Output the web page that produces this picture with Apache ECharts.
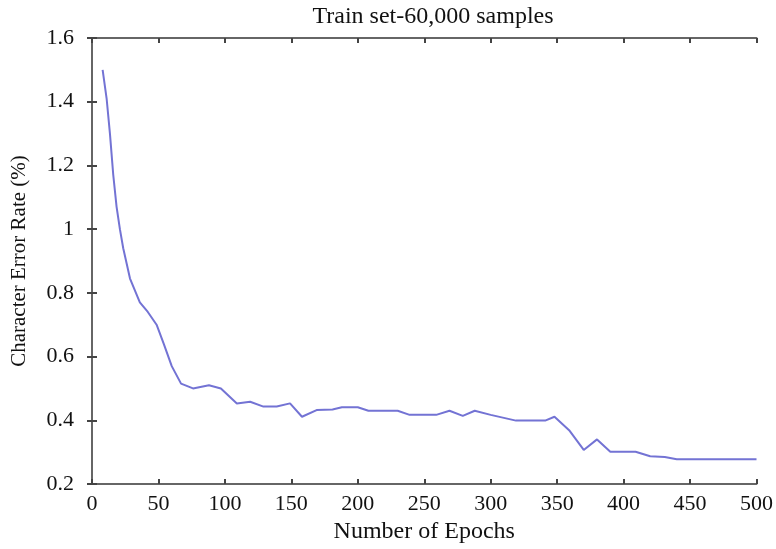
<!DOCTYPE html>
<html>
<head>
<meta charset="utf-8">
<script src="https://cdn.jsdelivr.net/npm/echarts@6/dist/echarts.min.js"></script>
<style>
html,body{margin:0;padding:0;background:#fff;}
#chart{width:776px;height:549px;}
</style>
</head>
<body>
<div id="chart"></div>
<script>
const titleText = "Train set-60,000 samples";
const xAxisName = "Number of Epochs";
const yAxisName = "Character Error Rate (%)";
const epochs = [8, 11, 13.5, 16, 18.5, 21, 23.5, 28.6, 36, 42, 48.6, 54, 60, 67, 76, 88, 97, 109, 119, 129, 139, 149, 158, 169, 181, 188, 200, 208, 230, 239, 259, 269, 279, 288, 300, 319, 341, 348, 359, 370, 380, 390, 409, 420, 431, 440, 500];
const errorRate = [1.50, 1.41, 1.30, 1.17, 1.07, 1.0, 0.94, 0.845, 0.77, 0.74, 0.70, 0.64, 0.57, 0.515, 0.50, 0.51, 0.50, 0.453, 0.458, 0.443, 0.443, 0.453, 0.411, 0.432, 0.434, 0.441, 0.441, 0.430, 0.430, 0.417, 0.417, 0.430, 0.414, 0.430, 0.417, 0.399, 0.399, 0.411, 0.369, 0.307, 0.340, 0.301, 0.301, 0.287, 0.285, 0.278, 0.278];

const font = "'Liberation Serif', 'Times New Roman', serif";
const axisColor = '#666';
const chart = echarts.init(document.getElementById('chart'));
const baseAxis = {
  axisLine: {show: true, lineStyle: {color: axisColor, width: 2}},
  axisTick: {show: true, inside: true, length: 5, lineStyle: {color: '#444', width: 2}},
  splitLine: {show: false}
};
chart.setOption({
  animation: false,
  backgroundColor: '#fff',
  title: {
    text: titleText, left: 428, top: 0, textAlign: 'center',
    textStyle: {fontFamily: font, fontSize: 24, fontWeight: 'normal', color: '#111'}
  },
  grid: {left: 92, right: 19, top: 38, bottom: 65, containLabel: false},
  xAxis: [
    Object.assign({}, baseAxis, {
      type: 'value', min: 0, max: 500, interval: 50, position: 'bottom',
      name: xAxisName, nameLocation: 'middle', nameGap: 36,
      nameTextStyle: {fontFamily: font, fontSize: 24, color: '#111'},
      axisLabel: {fontFamily: font, fontSize: 22, color: '#111', margin: 9}
    }),
    Object.assign({}, baseAxis, {
      type: 'value', min: 0, max: 500, interval: 50, position: 'top',
      axisLabel: {show: false}
    })
  ],
  yAxis: [
    Object.assign({}, baseAxis, {
      type: 'value', min: 0.2, max: 1.6, interval: 0.2, position: 'left',
      name: yAxisName, nameLocation: 'middle', nameGap: 62,
      nameTextStyle: {fontFamily: font, fontSize: 21, color: '#111'},
      axisLabel: {fontFamily: font, fontSize: 22, color: '#111', margin: 18}
    }),
    Object.assign({}, baseAxis, {
      type: 'value', min: 0.2, max: 1.6, interval: 0.2, position: 'right',
      axisLabel: {show: false}
    })
  ],
  series: [{
    type: 'line',
    data: epochs.map((e, i) => [e, errorRate[i]]),
    showSymbol: false,
    lineStyle: {color: '#7373d4', width: 2},
    xAxisIndex: 0, yAxisIndex: 0
  }]
});
</script>
</body>
</html>
